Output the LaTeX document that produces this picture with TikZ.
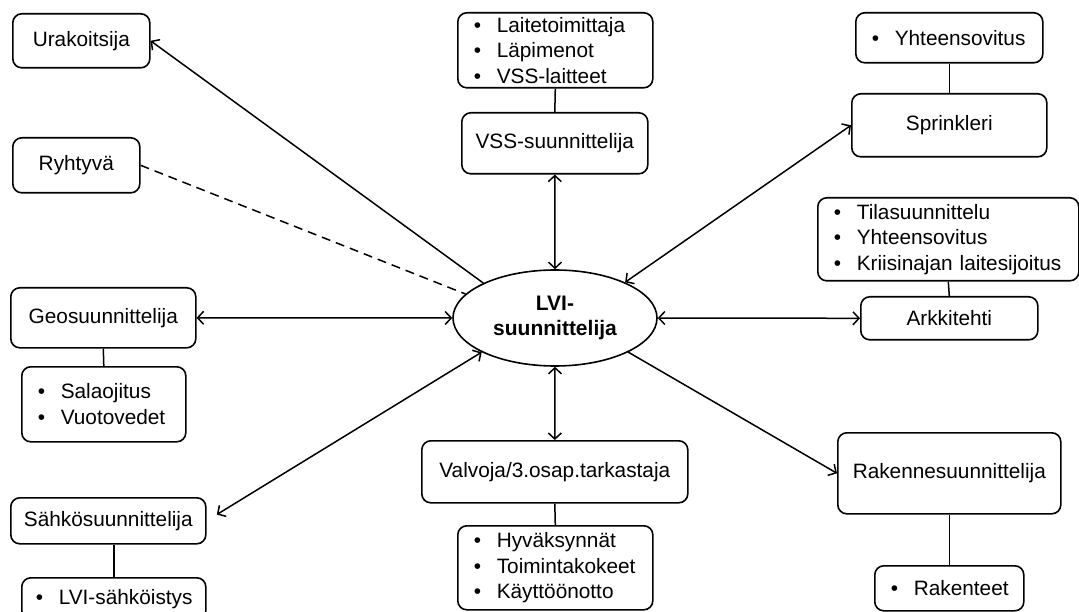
\documentclass[tikz,border=0pt]{standalone}
\usepackage{fontspec}
\setmainfont{Liberation Sans}
\usetikzlibrary{arrows.meta,shapes.geometric}
\newcommand\li[1]{\mbox{\makebox[25pt][l]{\hspace{2pt}•}#1}}
\begin{document}
\begin{tikzpicture}[x=1pt,y=-1pt,
  box/.style={draw, line width=1.6pt, rounded corners=9pt, anchor=north west, inner sep=0pt, align=center, font=\fontsize{20.8}{25.5}\selectfont},
  lst/.style={box, align=left, inner xsep=14pt},
  conn/.style={line width=1.5pt},
  arrb/.style={conn, {Straight Barb[length=6pt,width=13pt]}-{Straight Barb[length=6pt,width=13pt]}},
  arro/.style={conn, -{Straight Barb[length=6pt,width=13pt]}},
  dsh/.style={conn, dash pattern=on 9pt off 6pt}]
\useasboundingbox (0,0) rectangle (1079,612);
\clip (0,0) rectangle (1079,612);
\fill[white] (0,0) rectangle (1079,612);

\node[box, minimum width=137pt, minimum height=54pt] (ura) at (12,13) {Urakoitsija};
\node[box, minimum width=127pt, minimum height=55pt] (ryh) at (12,137) {Ryhtyvä};
\node[lst, minimum width=195pt, text width=167pt, minimum height=75pt] (vssb) at (457,12) {\li{Laitetoimittaja}\\\li{Läpimenot}\\\li{VSS-laitteet}};
\node[box, minimum width=186pt, minimum height=61pt] (vss) at (461,112) {VSS-suunnittelija};
\node[lst, minimum width=187pt, text width=159pt, minimum height=50pt] (spb) at (855,12) {\li{Yhteensovitus}};
\node[box, minimum width=195pt, minimum height=63pt] (spr) at (851,93) {Sprinkleri};
\node[lst, minimum width=261pt, text width=233pt, minimum height=83pt] (arkb) at (817,197) {\li{Tilasuunnittelu}\\\li{Yhteensovitus}\\\li{Kriisinajan laitesijoitus}};
\node[box, minimum width=177pt, minimum height=43pt] (ark) at (860,296) {Arkkitehti};
\node[box, minimum width=223pt, minimum height=81pt] (rak) at (837,432) {Rakennesuunnittelija};
\node[lst, minimum width=149pt, text width=121pt, minimum height=45pt] (rakb) at (874,565) {\li{Rakenteet}};
\node[box, minimum width=266pt, minimum height=62pt] (val) at (421,440) {Valvoja/3.osap.tarkastaja};
\node[lst, minimum width=195pt, text width=167pt, minimum height=84pt] (valb) at (457,525) {\li{Hyväksynnät}\\\li{Toimintakokeet}\\\li{Käyttöönotto}};
\node[box, minimum width=185pt, minimum height=60pt] (geo) at (10,287) {Geosuunnittelija};
\node[lst, minimum width=164pt, text width=136pt, minimum height=75pt] (geob) at (21,366) {\li{Salaojitus}\\\li{Vuotovedet}};
\node[box, minimum width=195pt, minimum height=46pt] (sah) at (10,497) {Sähkösuunnittelija};
\node[lst, minimum width=184pt, text width=160pt, inner xsep=12pt, minimum height=42pt] (sahb) at (21,577) {\li{LVI-sähköistys}};

\node[ellipse, draw, line width=1.6pt, minimum width=204pt, minimum height=96pt, inner sep=0pt, align=center, font=\bfseries\fontsize{21}{25}\selectfont] (ell) at (555,318) {LVI-\\suunnittelija};

% sub-box connectors
\draw[conn] (vssb.south) -- (vss.north);
\draw[conn] (spb.south) -- (spr.north);
\draw[conn] (arkb.south) -- (ark.north);
\draw[conn] (rak.south) -- (rakb.north);
\draw[conn] (val.south) -- (valb.north);
\draw[conn] (geo.south) -- (geob.north);
\draw[conn] (sahb.north) -- (sahb.north |- sah.south);

% arrows
\draw[arro] (ell.154) -- (ura.east);
\draw[dsh] (ryh.east) -- (ell.165);
\draw[arrb] (vss.south) -- (ell.north);
\draw[arrb] (ell.27) -- (spr.west);
\draw[arrb] (ell.east) -- (ark.west);
\draw[arrb] (ell.west) -- (geo.east);
\draw[arrb, shorten >=12pt] (ell.205) -- (sah.east);
\draw[arrb] (ell.south) -- (val.north);
\draw[arro] (ell.-25) -- (rak.west);
\end{tikzpicture}
\end{document}
